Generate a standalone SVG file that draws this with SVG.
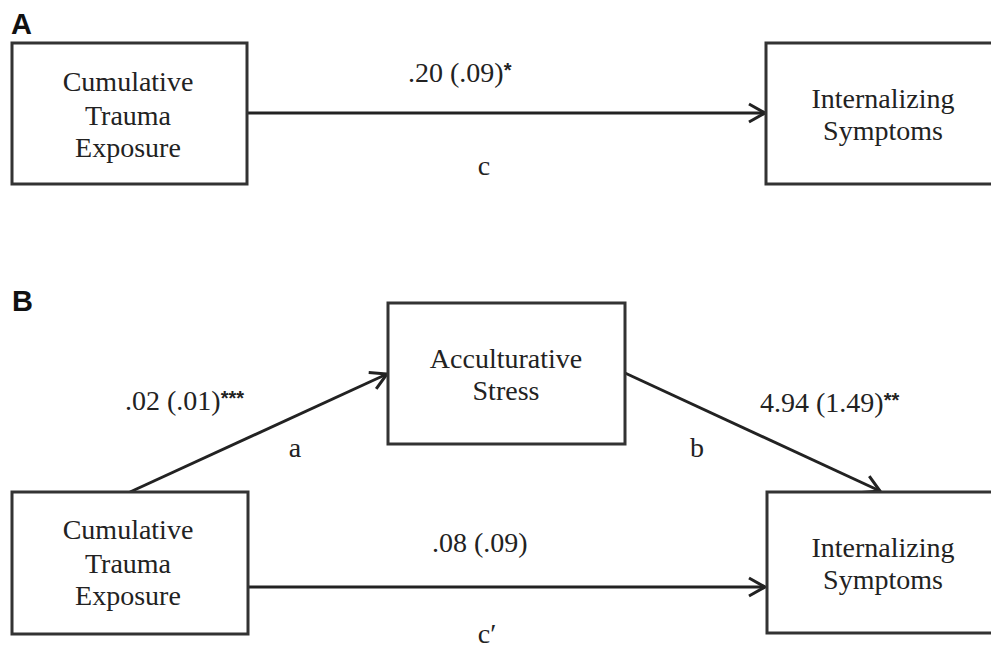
<svg xmlns="http://www.w3.org/2000/svg" width="991" height="649" viewBox="0 0 991 649">
<defs>
<marker id="arr" markerUnits="userSpaceOnUse" markerWidth="24" markerHeight="24" refX="17" refY="10" orient="auto" overflow="visible">
<path d="M1,1 L17,10 L1,19" fill="none" stroke="#222" stroke-width="3" stroke-linejoin="miter"/>
</marker>
</defs>
<style>
.box{fill:#fff;stroke:#333;stroke-width:3}
.t{font-family:"Liberation Serif","Times New Roman",serif;font-size:28px;fill:#222;text-anchor:middle}
.l{font-family:"Liberation Serif","Times New Roman",serif;font-size:28px;fill:#222}
.s{font-family:"Liberation Sans",Arial,sans-serif;font-weight:bold;font-size:20px}
.p{font-family:"Liberation Sans",Arial,sans-serif;font-weight:bold;font-size:29px;fill:#111}
.e{stroke:#222;stroke-width:3;fill:none;marker-end:url(#arr)}
</style>
<rect width="991" height="649" fill="#fff"/>
<text class="p" x="11" y="34">A</text>
<text class="p" x="12" y="311">B</text>
<g id="connectors">
<line class="e" x1="248" y1="113" x2="765" y2="113"/>
<line class="e" x1="130" y1="492" x2="387" y2="374"/>
<line class="e" x1="625" y1="373" x2="880" y2="491"/>
<line class="e" x1="248" y1="587" x2="765" y2="587"/>
</g>
<g id="labels">
<text class="l" x="408" y="82">.20 (.09)<tspan class="s" dy="-5">*</tspan></text>
<text class="t" x="484" y="175">c</text>
<text class="l" x="125" y="410">.02 (.01)<tspan class="s" dy="-5">***</tspan></text>
<text class="t" x="295" y="457">a</text>
<text class="l" x="760" y="412">4.94 (1.49)<tspan class="s" dy="-5">**</tspan></text>
<text class="t" x="697" y="457">b</text>
<text class="l" x="432" y="552">.08 (.09)</text>
<text class="t" x="487" y="643">c′</text>
</g>
<g id="A-trauma">
<rect class="box" x="12" y="43" width="235" height="141"/>
<text class="t" x="128" y="91">Cumulative</text>
<text class="t" x="128" y="125">Trauma</text>
<text class="t" x="128" y="157">Exposure</text>
</g>
<g id="A-internalizing">
<rect class="box" x="766" y="43" width="240" height="141"/>
<text class="t" x="883" y="108">Internalizing</text>
<text class="t" x="883" y="140">Symptoms</text>
</g>
<g id="B-stress">
<rect class="box" x="388" y="303" width="237" height="141"/>
<text class="t" x="506" y="368">Acculturative</text>
<text class="t" x="506" y="400">Stress</text>
</g>
<g id="B-trauma">
<rect class="box" x="12" y="492" width="236" height="142"/>
<text class="t" x="128" y="539">Cumulative</text>
<text class="t" x="128" y="573">Trauma</text>
<text class="t" x="128" y="605">Exposure</text>
</g>
<g id="B-internalizing">
<rect class="box" x="767" y="492" width="240" height="141"/>
<text class="t" x="883" y="557">Internalizing</text>
<text class="t" x="883" y="589">Symptoms</text>
</g>
</svg>
